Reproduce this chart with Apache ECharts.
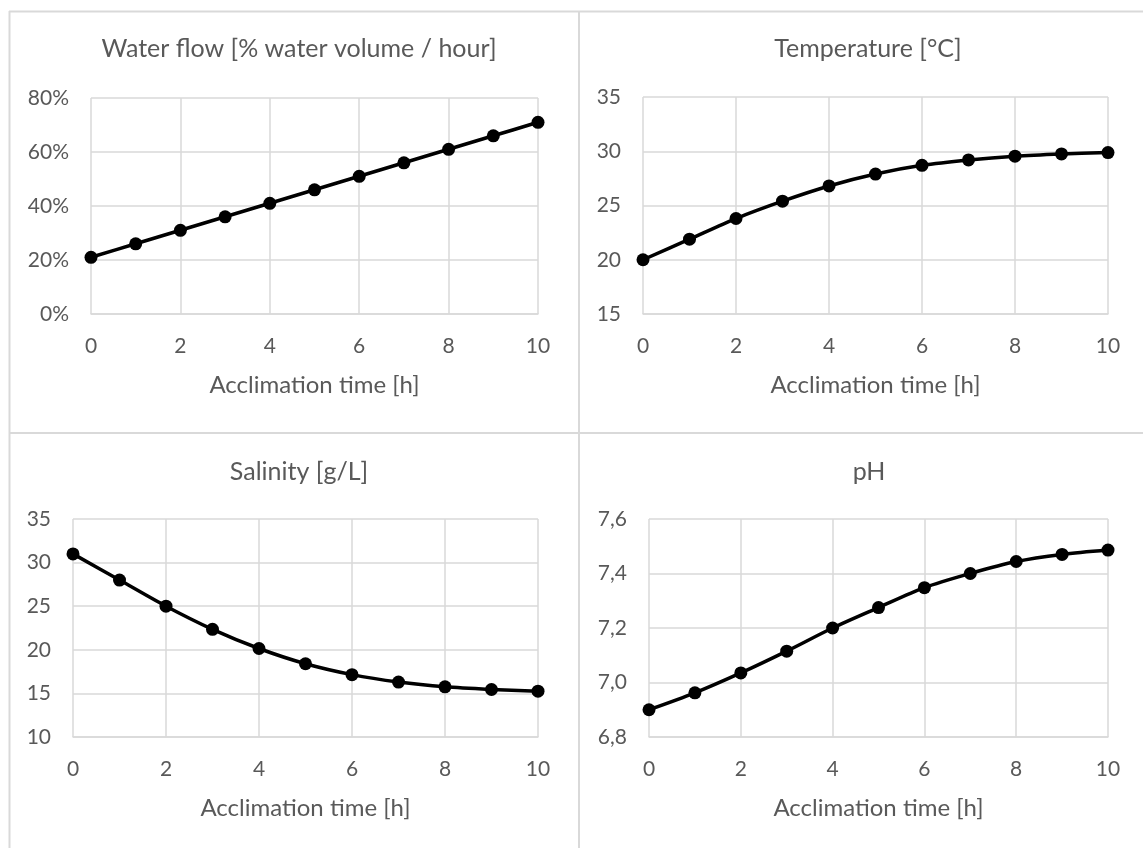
<!DOCTYPE html>
<html>
<head>
<meta charset="utf-8">
<script src="https://cdn.jsdelivr.net/npm/echarts@6/dist/echarts.min.js"></script>
<style>
html,body{margin:0;padding:0;background:#fff;}
#chart{width:1143px;height:848px;}
</style>
</head>
<body>
<div id="chart"></div>
<script>
// ---- data ----
const hours = [0,1,2,3,4,5,6,7,8,9,10];
const waterFlow = [0.21,0.26,0.31,0.36,0.41,0.46,0.51,0.56,0.61,0.66,0.71];
const temperature = [20.0,21.9,23.8,25.4,26.8,27.9,28.7,29.2,29.55,29.75,29.88];
const salinity = [31.0,28.0,25.0,22.35,20.15,18.4,17.15,16.3,15.75,15.45,15.25];
const ph = [6.9,6.962,7.035,7.115,7.2,7.275,7.348,7.4,7.444,7.47,7.486];
const titles = ["Water flow [% water volume / hour]","Temperature [°C]","Salinity [g/L]","pH"];
const xName = "Acclimation time [h]";

const FONT = "Lato, 'Open Sans', sans-serif";
const TXT = "#595959";
const GRID = "#d9d9d9";

const chart = echarts.init(document.getElementById('chart'), null, {renderer:'canvas'});

const grids = [
  {left:91, right:605, top:98, bottom:534},
  {left:643, right:35, top:97, bottom:534},
  {left:73, right:605, top:519, bottom:111},
  {left:649, right:35, top:519, bottom:111}
];
const yCfg = [
  {min:0, max:0.8, interval:0.2, fmt: v => Math.round(v*100) + '%'},
  {min:15, max:35, interval:5, fmt: v => String(v)},
  {min:10, max:35, interval:5, fmt: v => String(v)},
  {min:6.8, max:7.6, interval:0.2, fmt: v => v.toFixed(1).replace('.', ',')}
];
const seriesData = [waterFlow, temperature, salinity, ph];
const titlePos = [
  {x:294, y:49},{x:863, y:49},{x:294, y:472},{x:864, y:472}
];

const option = {
  backgroundColor:'#fff',
  animation:false,
  title: titles.map((t,i)=>({
    text:t, left:titlePos[i].x, top:titlePos[i].y - 18, textAlign:'center',
    textStyle:{fontFamily:FONT, fontSize:25, fontWeight:'normal', color:TXT}
  })),
  grid: grids.map(g=>Object.assign({containLabel:false}, g)),
  xAxis: grids.map((g,i)=>({
    type:'value', gridIndex:i, min:0, max:10, interval:2,
    name:xName, nameLocation:'middle', nameGap:59,
    nameTextStyle:{fontFamily:FONT, fontSize:24, color:TXT},
    axisLine:{show:true, lineStyle:{color:GRID, width:1.5}},
    axisTick:{show:false},
    splitLine:{show:true, lineStyle:{color:GRID, width:1.5}},
    axisLabel:{fontFamily:FONT, fontSize:21, color:TXT, margin:22}
  })),
  yAxis: yCfg.map((c,i)=>({
    type:'value', gridIndex:i, min:c.min, max:c.max, interval:c.interval,
    axisLine:{show:false}, axisTick:{show:false},
    splitLine:{show:true, lineStyle:{color:GRID, width:1.5}},
    axisLabel:{fontFamily:FONT, fontSize:21, color:TXT, margin:22, formatter:c.fmt}
  })),
  series: seriesData.map((d,i)=>({
    type:'line', xAxisIndex:i, yAxisIndex:i,
    data: hours.map((h,k)=>[h, d[k]]),
    smooth:0.3,
    symbol:'circle', symbolSize:13, showSymbol:true,
    lineStyle:{color:'#000', width:3.5},
    itemStyle:{color:'#000', borderWidth:0}
  })),
  graphic: [
    {type:'line', shape:{x1:9, y1:11.5, x2:1143, y2:11.5}, style:{stroke:GRID, lineWidth:2}},
    {type:'line', shape:{x1:9.5, y1:11, x2:9.5, y2:848}, style:{stroke:GRID, lineWidth:2}},
    {type:'line', shape:{x1:579, y1:11, x2:579, y2:848}, style:{stroke:GRID, lineWidth:2}},
    {type:'line', shape:{x1:9, y1:433, x2:1143, y2:433}, style:{stroke:GRID, lineWidth:2}}
  ]
};
chart.setOption(option);
</script>
</body>
</html>
